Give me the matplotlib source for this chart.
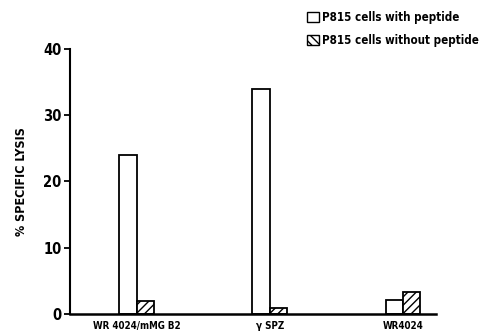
import matplotlib.pyplot as plt
import numpy as np
from matplotlib.patches import Patch

# data
groups = ['WR 4024/mMG B2', 'γ SPZ', 'WR4024']
with_peptide = [24, 34, 2.1]
without_peptide = [2.0, 0.9, 3.3]
yticks = [0, 10, 20, 30, 40]

plt.rcParams['font.family'] = ['DejaVu Sans']
plt.rcParams['font.stretch'] = 'condensed'
plt.rcParams['font.weight'] = 'bold'
plt.rcParams['hatch.linewidth'] = 1.0

fig = plt.figure(figsize=(4.83, 3.31), dpi=100)
ax = fig.add_axes([0.145, 0.0514, 0.758, 0.8006])

x = np.arange(len(groups))
w = 0.13
ax.bar(x - w / 2, with_peptide, w, color='white', edgecolor='black', linewidth=1.3)
ax.bar(x + w / 2, without_peptide, w, color='white', edgecolor='black', linewidth=1.3, hatch='////')

ax.set_xlim(-0.50, 2.25)
ax.set_ylim(0, 40)
ax.set_yticks(yticks)
ax.set_yticklabels([str(t) for t in yticks], fontsize=10.5, fontweight='bold')
ax.set_xticks(x)
ax.set_xticklabels(groups, fontsize=7, fontweight='bold')
ax.tick_params(axis='x', length=0, pad=5)
ax.tick_params(axis='y', length=4, width=1.3, pad=2)

for s in ['top', 'right']:
    ax.spines[s].set_visible(False)
ax.spines['left'].set_linewidth(1.5)
ax.spines['bottom'].set_linewidth(1.8)

ax.set_ylabel('% SPECIFIC LYSIS', fontsize=9, fontweight='bold', labelpad=11)

handles = [Patch(facecolor='white', edgecolor='black', linewidth=1.0),
           Patch(facecolor='white', edgecolor='black', linewidth=1.0, hatch='\\\\\\\\')]
fig.legend(handles, ['P815 cells with peptide', 'P815 cells without peptide'],
           loc='upper left', bbox_to_anchor=(0.617, 0.995), frameon=False,
           prop={'size': 8.3, 'weight': 'bold', 'stretch': 'condensed'},
           handlelength=1.0, handleheight=1.0,
           handletextpad=0.3, labelspacing=0.85, borderaxespad=0.4)

fig.savefig('out.png', dpi=100)
